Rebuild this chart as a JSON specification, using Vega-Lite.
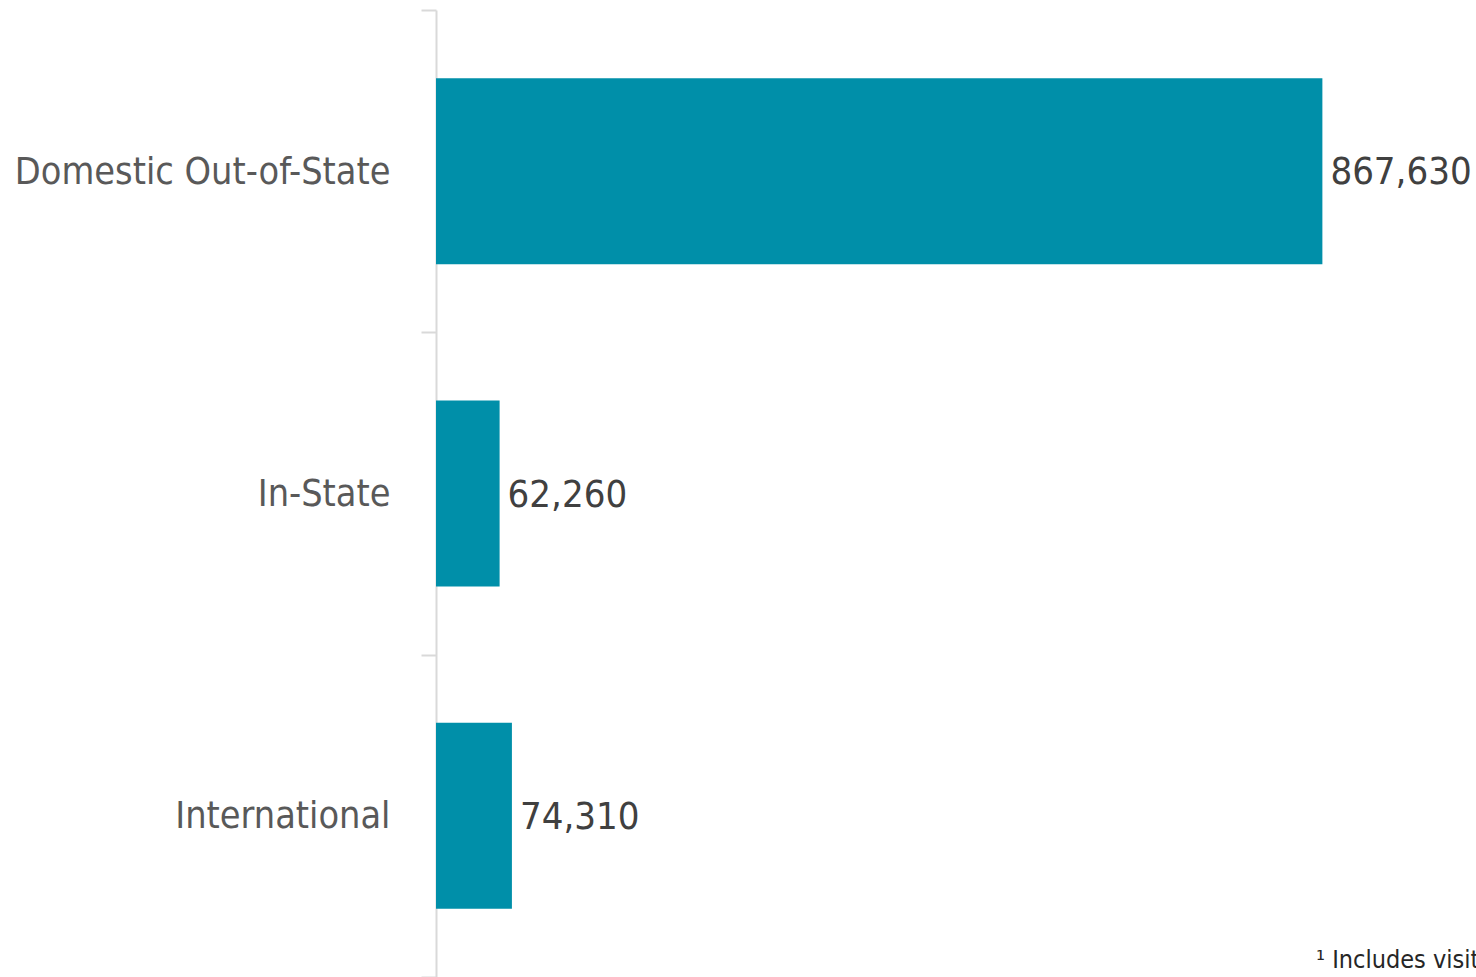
{
  "$schema": "https://vega.github.io/schema/vega-lite/v6.json",
  "width": 1040,
  "height": 967,
  "autosize": "none",
  "padding": {"left": 436, "top": 10, "right": 0, "bottom": 0},
  "background": "white",
  "config": {"view": {"stroke": null}, "font": "DejaVu Sans Condensed, Liberation Sans, sans-serif"},
  "layer": [
    {
      "data": {"values": [
        {"category": "Domestic Out-of-State", "value": 867630},
        {"category": "In-State", "value": 62260},
        {"category": "International", "value": 74310}
      ]},
      "encoding": {
        "y": {
          "field": "category", "type": "nominal", "sort": null, "title": null,
          "scale": {"paddingInner": 0, "paddingOuter": 0},
          "axis": {
            "domainColor": "#d9d9d9", "domainWidth": 2,
            "tickColor": "#d9d9d9", "tickWidth": 2, "tickSize": 15, "tickBand": "extent",
            "labelFont": "DejaVu Sans Condensed, Liberation Sans, sans-serif", "labelFontSize": 37.5, "labelColor": "#595959",
            "labelPadding": 31, "labelLimit": 0, "labelOffset": 1
          }
        },
        "x": {"field": "value", "type": "quantitative", "scale": {"domain": [0, 1018000], "nice": false}, "axis": null}
      },
      "layer": [
        {"mark": {"type": "bar", "color": "#008fa9", "height": {"band": 0.577}}},
        {
          "mark": {"type": "text", "align": "left", "baseline": "middle", "dx": 8, "dy": 2, "font": "DejaVu Sans Condensed, Liberation Sans, sans-serif", "fontSize": 38, "color": "#404040"},
          "encoding": {"text": {"field": "value", "type": "quantitative", "format": ","}}
        }
      ]
    },
    {
      "data": {"values": [{"note": "¹ Includes visitors", "pos": 861400}]},
      "mark": {"type": "text", "align": "left", "baseline": "alphabetic", "font": "DejaVu Sans Condensed, Liberation Sans, sans-serif", "fontSize": 25, "color": "#262626", "dy": 474},
      "encoding": {
        "x": {"field": "pos", "type": "quantitative"},
        "text": {"field": "note"}
      }
    }
  ]
}
